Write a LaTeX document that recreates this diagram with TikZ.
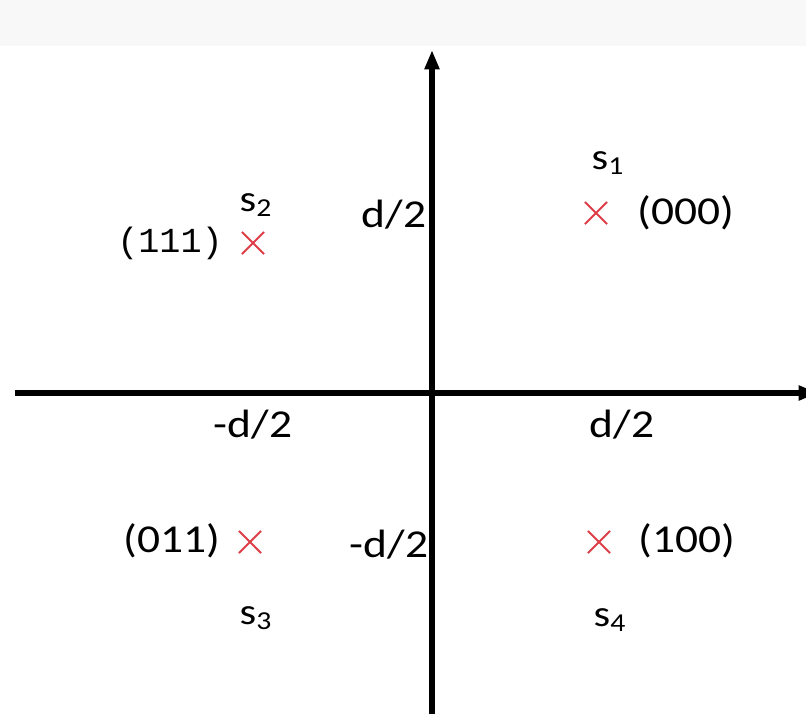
\documentclass[tikz,border=0pt]{standalone}
\usepackage{fontspec}
\setmainfont{Carlito}[FakeStretch=1.15]
\newfontfamily\codefont{Liberation Mono}
\usetikzlibrary{arrows.meta,shapes.misc}
\definecolor{crossred}{RGB}{222,62,72}
\definecolor{bandgray}{RGB}{248,248,248}

\begin{document}
\begin{tikzpicture}[x=0.02cm, y=-0.02cm, every node/.style={font=\fontsize{22.5}{26}\selectfont, inner sep=0pt}]
    \tikzset{
        axis/.style={line width=2.9pt, -{Triangle[length=11pt, width=8pt]}},
        symb/.style={cross out, draw=crossred, line width=1.1pt, minimum size=11.5pt},
        slabel/.style={font=\fontsize{21}{24}\selectfont}
    }
    \useasboundingbox (0,0) rectangle (806,714);
    \fill[bandgray] (0,0) rectangle (806,46);

    % axes
    \coordinate (xl) at (15,393);
    \coordinate (xr) at (818,393);
    \coordinate (yb) at (432,720);
    \coordinate (yt) at (432,50);
    \draw[axis] (xl) -- (xr);
    \draw[axis] (yb) -- (yt);

    % axis labels
    \node (xm) at (253,425) {-d/2};
    \node (xp) at (622,425) {d/2};
    \node (yp) at (394,215) {d/2};
    \node (ym) at (389,545) {-d/2};

    % signal points
    \node[symb] (p1) at (596,213) {};
    \node (c1) at (686,213) {(000)};
    \node[slabel] (s1) at (608,163) {s\textsubscript{1}};

    \node[symb] (p2) at (253,243) {};
    \node[font=\codefont\fontsize{20}{24}\selectfont] (c2) at (170,243) {(111)};
    \node[slabel] (s2) at (256,205) {s\textsubscript{2}};

    \node[symb] (p3) at (250,542) {};
    \node (c3) at (172,541) {(011)};
    \node[slabel] (s3) at (256,618) {s\textsubscript{3}};

    \node[symb] (p4) at (599,542) {};
    \node (c4) at (687,541) {(100)};
    \node[slabel] (s4) at (610,620) {s\textsubscript{4}};
\end{tikzpicture}
\end{document}
